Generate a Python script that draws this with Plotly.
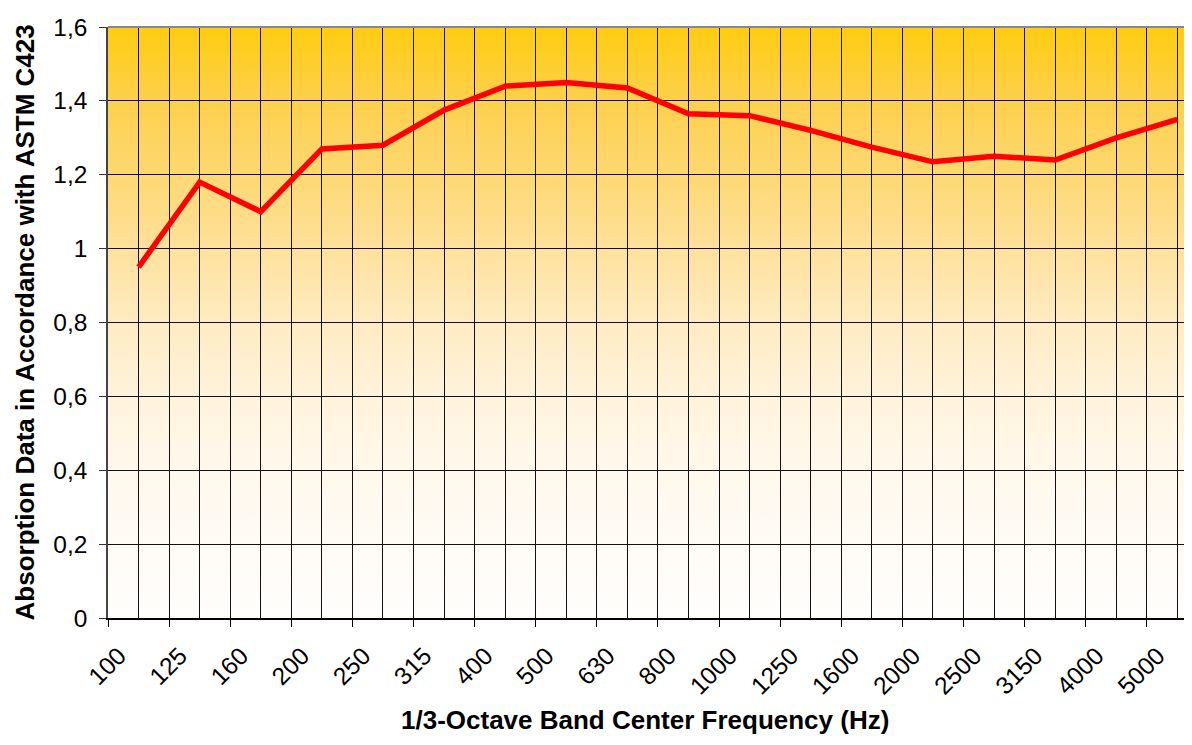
import base64
import plotly.graph_objects as go

# ---- data ----
freq_labels = ["100", "125", "160", "200", "250", "315", "400", "500", "630",
               "800", "1000", "1250", "1600", "2000", "2500", "3150", "4000", "5000"]
absorption = [0.95, 1.18, 1.10, 1.27, 1.28, 1.375, 1.44, 1.45, 1.435,
              1.365, 1.36, 1.32, 1.275, 1.235, 1.25, 1.24, 1.30, 1.35]
y_ticks = [0, 0.2, 0.4, 0.6, 0.8, 1.0, 1.2, 1.4, 1.6]

x_pos = list(range(len(freq_labels)))
boundaries = [k - 0.5 for k in x_pos]

# ---- gradient background (gold at top -> white at bottom) ----
stops = [(0.00, "#FFCC10"), (0.125, "#FDD04C"), (0.25, "#FDD872"), (0.375, "#FEE19C"),
         (0.50, "#FEEBC2"), (0.625, "#FFF3DC"), (0.75, "#FFF8EC"), (0.875, "#FFFBF5"),
         (1.00, "#FFFEFC")]
stop_xml = "".join(f'<stop offset="{o}" stop-color="{c}"/>' for o, c in stops)
svg = ('<svg xmlns="http://www.w3.org/2000/svg" width="100" height="100" '
       'preserveAspectRatio="none"><defs><linearGradient id="g" x1="0" y1="0" x2="0" y2="1">'
       + stop_xml + '</linearGradient></defs><rect width="100" height="100" fill="url(#g)"/></svg>')
svg_uri = "data:image/svg+xml;base64," + base64.b64encode(svg.encode()).decode()

FONT = "Liberation Sans, Arial, Helvetica, sans-serif"

fig = go.Figure()
fig.add_trace(go.Scatter(
    x=x_pos, y=absorption, mode="lines",
    line=dict(color="#FF0000", width=5.5),
    hoverinfo="x+y", showlegend=False,
))

# page body has an 8px margin, so the figure is 8px smaller and margins compensate
fig.update_layout(
    width=1184, height=737,
    margin=dict(l=100, r=0, t=19, b=127, autoexpand=False),
    paper_bgcolor="white", plot_bgcolor="white",
    separators=", ",
    font=dict(family=FONT, size=24, color="black"),
    images=[dict(source=svg_uri, xref="paper", yref="paper", x=0, y=1,
                 sizex=1, sizey=1, sizing="stretch", layer="below",
                 xanchor="left", yanchor="top")],
    shapes=[dict(type="line", xref="paper", yref="paper", x0=0, x1=1, y0=1, y1=1,
                 line=dict(color="#888888", width=2))],
    annotations=[
        dict(text="<b>1/3-Octave Band Center Frequency (Hz)</b>", xref="paper", yref="paper",
             x=0.495, y=-0.173, xanchor="center", yanchor="middle", showarrow=False,
             font=dict(family=FONT, size=26, color="black")),
        dict(text="<b>Absorption Data in Accordance with ASTM C423</b>", xref="paper", yref="paper",
             x=-0.0766, y=0.5, xanchor="center", yanchor="middle", textangle=-90, showarrow=False,
             font=dict(family=FONT, size=26, color="black")),
    ],
)

fig.update_xaxes(
    range=[-0.5, 17.24], automargin=False,
    tickmode="array", tickvals=boundaries, ticktext=freq_labels,
    tickangle=-45, ticks="outside", ticklen=7, tickcolor="black", tickwidth=1,
    ticklabelshift=11, ticklabelstandoff=5,
    showgrid=True, gridcolor="#111111", gridwidth=1,
    minor=dict(tickmode="array", tickvals=x_pos, showgrid=True, gridcolor="#111111",
               gridwidth=1, ticks=""),
    showline=True, linecolor="black", linewidth=1.5,
    zeroline=False, fixedrange=True,
    tickfont=dict(family=FONT, size=24.5, color="black"),
)
fig.update_yaxes(
    range=[0, 1.6], automargin=False,
    tickmode="array", tickvals=y_ticks,
    ticks="outside", ticklen=7, tickcolor="#333333", tickwidth=1,
    ticklabelstandoff=7,
    showgrid=True, gridcolor="#111111", gridwidth=1,
    showline=True, linecolor="#444444", linewidth=1.5,
    zeroline=False, fixedrange=True,
    tickfont=dict(family=FONT, size=24.5, color="black"),
)

fig.write_html("out.html")
